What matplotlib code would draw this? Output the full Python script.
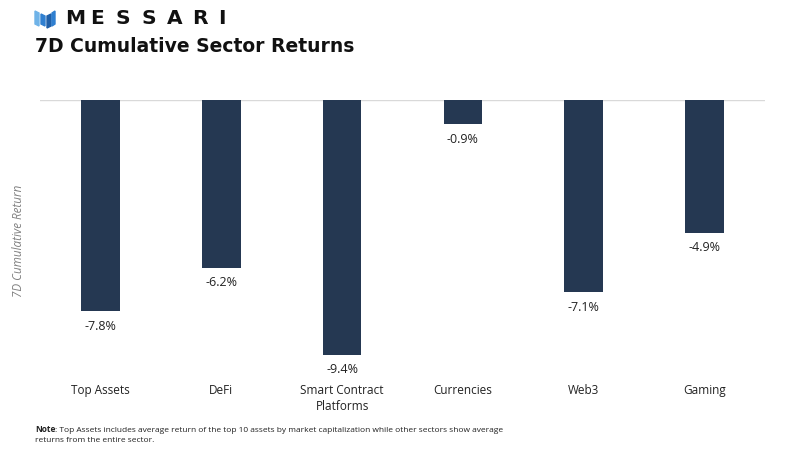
import matplotlib
matplotlib.use("Agg")
import matplotlib.pyplot as plt
from matplotlib.patches import Polygon

categories = ["Top Assets", "DeFi", "Smart Contract\nPlatforms", "Currencies", "Web3", "Gaming"]
returns = [-7.8, -6.2, -9.4, -0.9, -7.1, -4.9]
value_labels = ["-7.8%", "-6.2%", "-9.4%", "-0.9%", "-7.1%", "-4.9%"]

W, H = 800, 450
fig = plt.figure(figsize=(8, 4.5), dpi=100)
fig.patch.set_facecolor("white")

ax = fig.add_axes([40 / W, 1 - 370 / H, 725 / W, 270 / H])
x = list(range(len(categories)))
ax.bar(x, returns, width=0.32, color="#253852")
ax.set_xlim(-0.5, len(categories) - 0.5)
ax.set_ylim(-9.96, 0)
ax.axhline(0, color="#d9d9d9", lw=1, zorder=0)
for s in ax.spines.values():
    s.set_visible(False)
ax.set_yticks([])
ax.set_xticks(x)
ax.set_xticklabels(categories, fontsize=8.5, family="Open Sans", color="#222222", linespacing=1.3)
ax.tick_params(axis="x", length=0, pad=10)
for xi, v, lab in zip(x, returns, value_labels):
    ax.annotate(lab, (xi, v), xytext=(0, -6), textcoords="offset points",
                ha="center", va="top", fontsize=9, family="Open Sans", color="#222222")

fig.text(19 / W, 1 - 241 / H, "7D Cumulative Return", rotation=90, ha="center", va="center",
         fontsize=8.4, style="italic", color="#808080", family="Open Sans")

# Title and logo
fig.text(35 / W, 1 - 47 / H, "7D Cumulative Sector Returns", ha="left", va="center",
         fontsize=13.5, fontweight="bold", family="DejaVu Sans", color="#111111")
logo_letters = "MESSARI"
for i, ch in enumerate(logo_letters):
    fig.text((65 + i * 25.5) / W, 1 - 18 / H, ch, ha="left", va="center",
             fontsize=14.5, fontweight="bold", family="DejaVu Sans", color="#111111")

def px(pts):
    return [(a / W, 1 - b / H) for a, b in pts]

logo_shapes = [
    ([(35, 11), (39, 13), (39, 26), (35, 24)], "#6fb3e8"),
    ([(41, 14), (45, 16), (45, 26), (41, 24)], "#2f7fd0"),
    ([(47, 16), (51, 14), (51, 26), (47, 28)], "#1f5fa8"),
    ([(52, 13), (55, 11), (55, 24), (52, 26)], "#2f7fd0"),
]
for pts, col in logo_shapes:
    fig.patches.append(Polygon(px(pts), closed=True, transform=fig.transFigure, color=col))

note_bold = fig.text(35 / W, 1 - 430 / H, "Note", ha="left", va="center",
                     fontsize=6, fontweight="bold", family="Open Sans", color="#222222")
fig.text(35 / W, 1 - 430 / H, "", ha="left", va="center")
note_rest = ": Top Assets includes average return of the top 10 assets by market capitalization while other sectors show average"
from matplotlib.offsetbox import AnchoredOffsetbox
fig.canvas.draw()
bb = note_bold.get_window_extent()
fig.text(bb.x1 / W, 1 - 430 / H, note_rest, ha="left", va="center",
         fontsize=6, family="Open Sans", color="#222222")
fig.text(35 / W, 1 - 441 / H, "returns from the entire sector.",
         ha="left", va="center", fontsize=6, family="Open Sans", color="#222222")

fig.savefig("out.png", dpi=100, facecolor="white")
